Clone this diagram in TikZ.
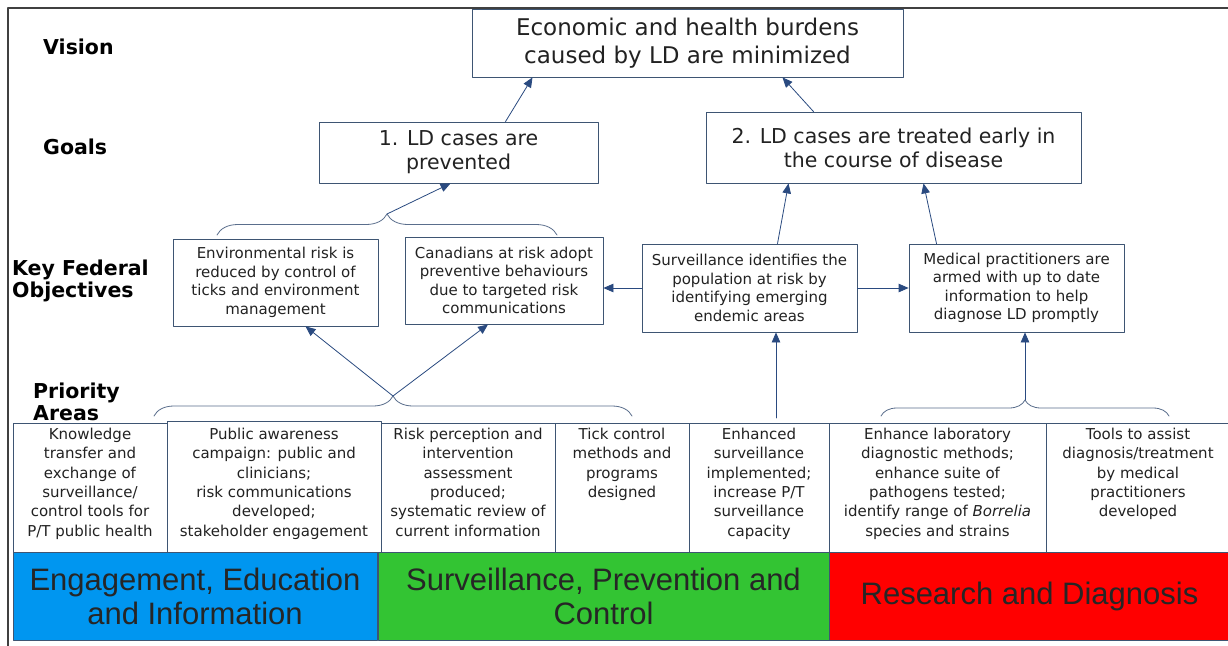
\documentclass[tikz,border=0pt]{standalone}
\usepackage{fontspec}
\setmainfont{DejaVu Sans}
\newfontfamily\bandfont{Liberation Sans}
\usetikzlibrary{arrows.meta,decorations.pathreplacing,positioning}
\definecolor{boxline}{HTML}{3E5573}
\definecolor{arrowblue}{HTML}{2A4A80}
\definecolor{bracegray}{HTML}{5A6E8C}
\definecolor{textgray}{HTML}{222222}
\definecolor{bandblue}{HTML}{0096F0}
\definecolor{bandgreen}{HTML}{33C433}
\definecolor{bandred}{HTML}{FF0000}
\tikzset{
  box/.style={draw=boxline, line width=0.8pt, fill=white, inner sep=0pt, align=center, text=textgray},
  goaltext/.style={font=\fontsize{20.5}{24}\selectfont},
  objtext/.style={font=\fontsize{15}{18.5}\selectfont},
  pbox/.style={draw=boxline, line width=0.7pt, fill=white, anchor=north, inner sep=0pt, minimum height=129pt},
  ptext/.style={align=center, text=textgray, font=\fontsize{15}{19.3}\selectfont, anchor=north, inner sep=0pt},
  band/.style={draw=boxline, line width=0.7pt, minimum height=88pt, inner sep=0pt, align=center,
    font=\bandfont\fontsize{31}{34}\selectfont, text=black!85},
  rowlabel/.style={anchor=west, align=left, inner sep=0pt, font=\bfseries\fontsize{20.5}{22}\selectfont},
  arr/.style={->, draw=arrowblue, line width=0.8pt},
  curly/.style={draw=bracegray, line width=0.8pt, decorate, decoration={brace, amplitude=#1}}
}
\begin{document}
\begin{tikzpicture}[x=1pt, y=-1pt, line join=round, line cap=round, >={Triangle[length=10pt,width=8.5pt]}]
  \useasboundingbox (0,0) rectangle (1228,645);
  \fill[white] (0,0) rectangle (1228,645);
  \draw[line width=1.3pt, black!75] (8,660) -- (8,8) -- (1240,8);

  \node[rowlabel] (lvis) at (43,47) {Vision};
  \node[rowlabel] (lgoal) at (43,147) {Goals};
  \node[rowlabel] (lobj) at (12,281) {Key Federal\\Objectives};
  \node[rowlabel] (lpri) at (33,402) {Priority\\Areas};

  \node[box, goaltext, font=\fontsize{23}{28}\selectfont, minimum width=431pt, minimum height=68pt] (vis) at (687.5,43)
    {Economic and health burdens\\caused by LD are minimized};
  \node[box, goaltext, minimum width=279pt, minimum height=61pt] (g1) at (458.5,152.5) {1. LD cases are\\prevented};
  \node[box, goaltext, minimum width=375pt, minimum height=71pt] (g2) at (893.5,147.5)
    {2. LD cases are treated early in\\the course of disease};

  \node[box, objtext, minimum width=205pt, minimum height=87pt] (o1) at (275.5,282.5)
    {Environmental risk is\\reduced by control of\\ticks and environment\\management};
  \node[box, objtext, minimum width=198pt, minimum height=87pt] (o2) at (504,280.5)
    {Canadians at risk adopt\\preventive behaviours\\due to targeted risk\\communications};
  \node[box, objtext, minimum width=215pt, minimum height=88pt] (o3) at (749.5,288)
    {Surveillance identifies the\\population at risk by\\identifying emerging\\endemic areas};
  \node[box, objtext, minimum width=215pt, minimum height=88pt] (o4) at (1016.5,288)
    {Medical practitioners are\\armed with up to date\\information to help\\diagnose LD promptly};

  \node[pbox, minimum width=154pt] (pa1) at (90,423) {};
  \node[pbox, minimum width=214pt, minimum height=131pt] (pa2) at (274,421) {};
  \node[pbox, minimum width=174pt] (pa3) at (468,423) {};
  \node[pbox, minimum width=134pt] (pa4) at (622,423) {};
  \node[pbox, minimum width=140pt] (pa5) at (759,423) {};
  \node[pbox, minimum width=217pt] (pa6) at (937.5,423) {};
  \node[pbox, minimum width=184pt] (pa7) at (1138,423) {};
  \node[ptext, below=5pt of pa1.north] (pa1t)
    {Knowledge\\transfer and\\exchange of\\surveillance/\\control tools for\\P/T public health};
  \node[ptext, below=5pt of pa2.north |- pa1.north] (pa2t)
    {Public awareness\\campaign: public and\\clinicians;\\risk communications\\developed;\\stakeholder engagement};
  \node[ptext, below=5pt of pa3.north] (pa3t)
    {Risk perception and\\intervention\\assessment\\produced;\\systematic review of\\current information};
  \node[ptext, below=5pt of pa4.north] (pa4t) {Tick control\\methods and\\programs\\designed};
  \node[ptext, below=5pt of pa5.north] (pa5t)
    {Enhanced\\surveillance\\implemented;\\increase P/T\\surveillance\\capacity};
  \node[ptext, below=5pt of pa6.north] (pa6t)
    {Enhance laboratory\\diagnostic methods;\\enhance suite of\\pathogens tested;\\identify range of \textit{Borrelia}\\species and strains};
  \node[ptext, below=5pt of pa7.north] (pa7t)
    {Tools to assist\\diagnosis/treatment\\by medical\\practitioners\\developed};

  \node[band, fill=bandblue, minimum width=364pt] (eei) at (195,596) {Engagement, Education\\and Information};
  \node[band, fill=bandgreen, minimum width=451pt] (spc) at (603.5,596) {Surveillance, Prevention and\\Control};
  \node[band, fill=bandred, minimum width=401pt] (rd) at (1029.5,596) {Research and Diagnosis};

  \draw[curly=21pt] (217,235) -- (557,235);
  \draw[curly=20pt] (154,416) -- (632,416);
  \draw[curly=16pt] (881,416) -- (1169,416);
  \coordinate (tip1) at (387,214);
  \coordinate (tip2) at (393,396);
  \coordinate (tip3) at (1025,400);
  \coordinate (s3) at (776,418);

  \draw[arr] ([xshift=47pt]g1.north) -- ([xshift=-155pt]vis.south);
  \draw[arr] ([xshift=-80pt]g2.north) -- ([xshift=95pt]vis.south);
  \draw[arr] (tip1) -- ([xshift=-8pt]g1.south);
  \draw[arr] ([xshift=28pt]o3.north) -- ([xshift=-105pt]g2.south);
  \draw[arr] ([xshift=-80pt]o4.north) -- ([xshift=30pt]g2.south);
  \draw[arr] (o3.west) -- (o3.west -| o2.east);
  \draw[arr] (o3.east) -- (o3.east -| o4.west);
  \draw[arr] (tip2) -- ([xshift=30pt]o1.south);
  \draw[arr] (tip2) -- ([xshift=-16pt]o2.south);
  \draw[arr] (s3) -- (s3 |- o3.south);
  \draw[arr] (tip3) -- (tip3 |- o4.south);
\end{tikzpicture}
\end{document}
